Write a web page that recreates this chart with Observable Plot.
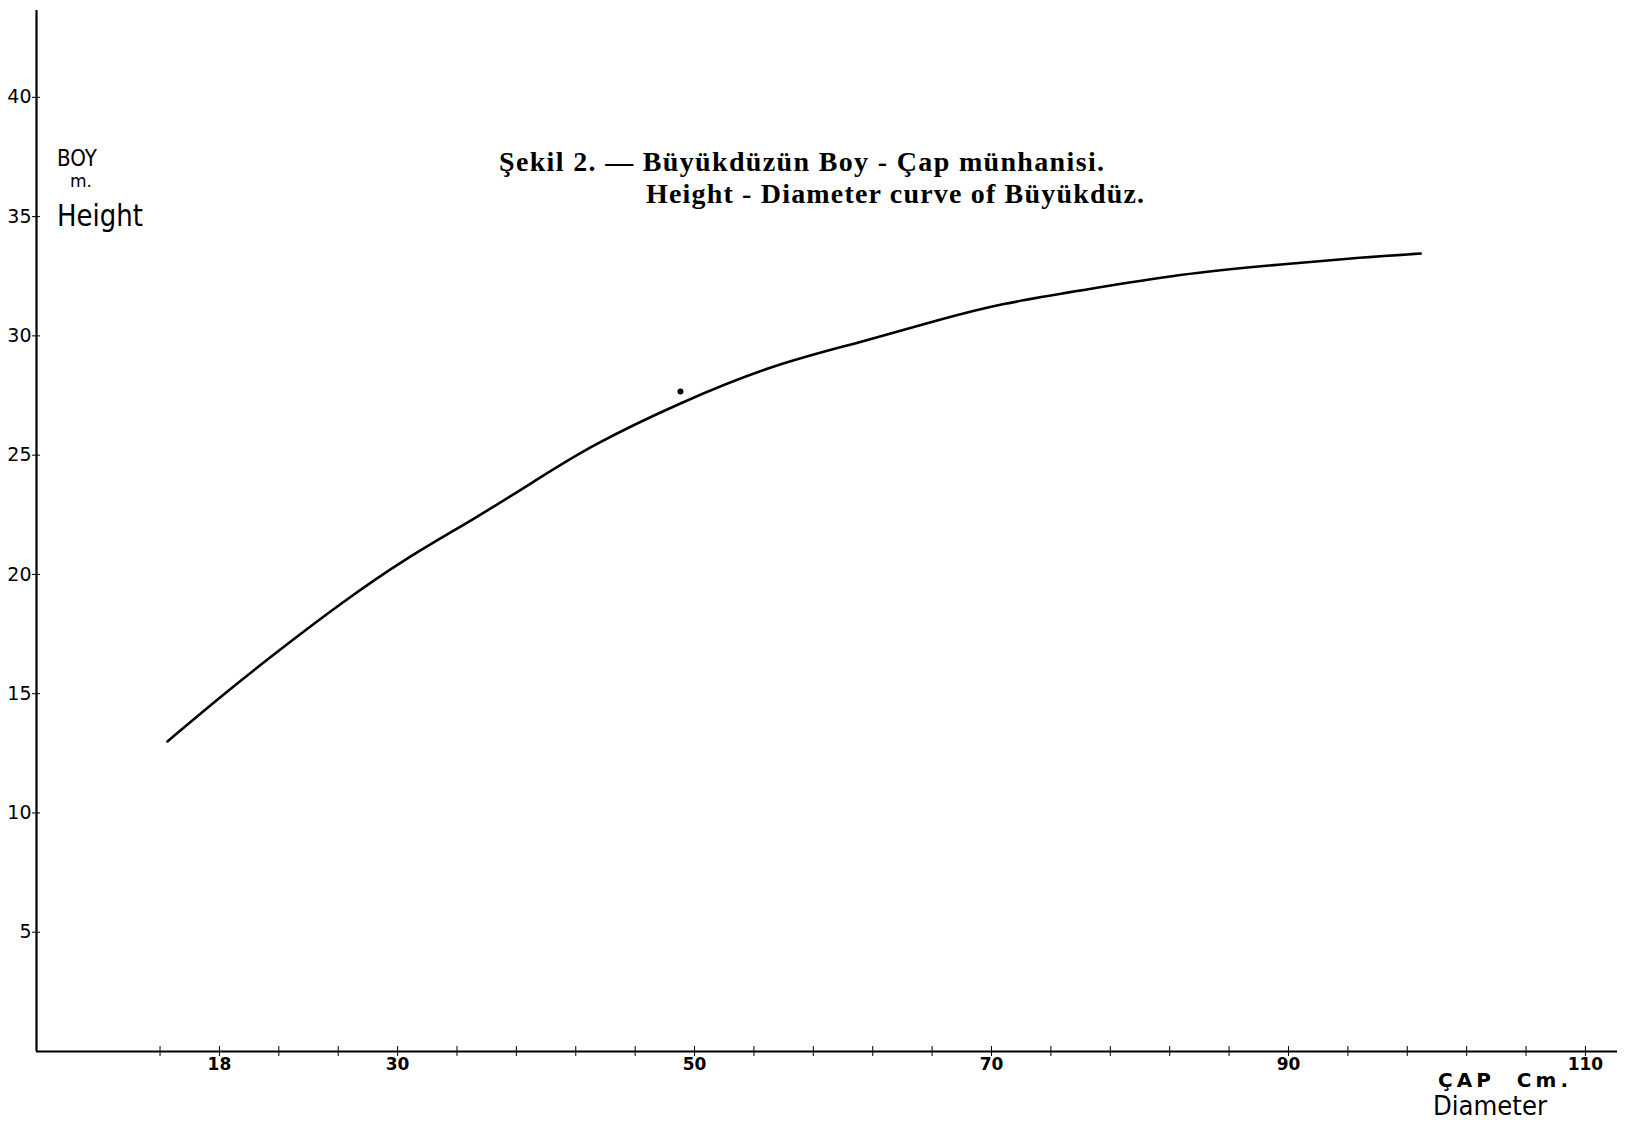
<!DOCTYPE html>
<html><head><meta charset="utf-8">
<script src="https://cdn.jsdelivr.net/npm/d3@7"></script>
<script src="https://cdn.jsdelivr.net/npm/@observablehq/plot@0.6"></script>
<style>
body{margin:0;background:#fff;}
#chart svg{display:block;}
</style>
</head><body><div id="chart"></div>
<script>
// Height–Diameter curve of Büyükdüz
const diameter = [14.5, 18.5, 22.6, 26.2, 30.6, 35.1, 39.2, 43.0, 49.0, 55.3, 61.0, 66.6, 70.6, 76.0, 82.7, 89.5, 95.1, 98.9];
const heightM  = [13.0, 15.1, 17.1, 18.8, 20.7, 22.3, 23.9, 25.4, 27.2, 28.8, 29.7, 30.7, 31.35, 31.9, 32.6, 33.0, 33.3, 33.45];
const strayDiameter = [49.05];
const strayHeight = [27.67];
const xTicks = d3.range(14, 111, 4);
const xTickLabels = [18, 30, 50, 70, 90, 110];
const yTicks = [5, 10, 15, 20, 25, 30, 35, 40];
const titleLines = ["Şekil 2. — Büyükdüzün Boy - Çap münhanisi.", "Height - Diameter curve of Büyükdüz."];
const yLabelLines = ["BOY", "m.", "Height"];
const xLabelLines = ["ÇAP  Cm.", "Diameter"];

const curve = diameter.map((d, i) => ({d, h: heightM[i]}));
const stray = strayDiameter.map((d, i) => ({d, h: strayHeight[i]}));

const W = 1625, H = 1125;
const plot = Plot.plot({
  width: W, height: H,
  marginLeft: 36, marginRight: 8, marginTop: 10, marginBottom: 74,
  style: {background: "#fff", color: "#000", fontFamily: "DejaVu Sans"},
  x: {domain: [5.68, 112.16]},
  y: {domain: [0, 43.64]},
  marks: [
    Plot.axisY({ticks: yTicks, tickSize: 4, tickPadding: 1, label: null, tickFormat: d => String(d), ariaLabel: "ylab"}),
    Plot.axisY({ticks: yTicks, tickSize: -4, label: null, tickFormat: () => ""}),
    Plot.axisX({ticks: xTicks, tickSize: 5, tickPadding: 1, label: null, ariaLabel: "xlab",
                tickFormat: d => xTickLabels.includes(d) ? String(d) : ""}),
    Plot.axisX({ticks: xTicks, tickSize: -5, label: null, tickFormat: () => ""}),
    Plot.ruleX([5.68], {stroke: "#000", strokeWidth: 2.2}),
    Plot.ruleY([0], {stroke: "#000", strokeWidth: 2.2}),
    Plot.line(curve, {x: "d", y: "h", curve: "basis", stroke: "#000", strokeWidth: 2.6}),
    Plot.dot(stray, {x: "d", y: "h", r: 3, fill: "#000", stroke: "none"})
  ]
});
document.getElementById("chart").appendChild(plot);

const svg = d3.select(plot);
// enlarge the tick labels: find every axis text by the orientation of its parent group
svg.selectAll("text").each(function() {
  const g = this.closest("g[aria-label]");
  const lab = g ? g.getAttribute("aria-label") : "";
  const s = d3.select(this);
  if (/^y/.test(lab)) s.style("font-size", "19px").style("font-family", "DejaVu Sans");
  else if (/^x/.test(lab)) s.style("font-size", "17px").style("font-weight", "bold").style("font-family", "DejaVu Sans");
});

const t = svg.append("g").attr("font-family", "Liberation Serif").attr("font-weight", "bold").attr("font-size", 28).attr("fill", "#000").attr("text-anchor", "start");
t.append("text").attr("x", 499).attr("y", 171).attr("textLength", 605).attr("lengthAdjust", "spacing").text(titleLines[0]);
t.append("text").attr("x", 646).attr("y", 203).attr("textLength", 498).attr("lengthAdjust", "spacing").text(titleLines[1]);

const yl = svg.append("g").attr("font-family", "DejaVu Sans").attr("fill", "#000").attr("text-anchor", "start");
yl.append("text").attr("x", 57).attr("y", 166).attr("font-size", 23).attr("textLength", 40).attr("lengthAdjust", "spacingAndGlyphs").text(yLabelLines[0]);
yl.append("text").attr("x", 70).attr("y", 187).attr("font-size", 17).text(yLabelLines[1]);
yl.append("text").attr("x", 57).attr("y", 226).attr("font-size", 31).attr("textLength", 86).attr("lengthAdjust", "spacingAndGlyphs").text(yLabelLines[2]);

const xl = svg.append("g").attr("font-family", "DejaVu Sans").attr("fill", "#000").attr("text-anchor", "start");
xl.append("text").attr("x", 1438).attr("y", 1087).attr("font-size", 20).attr("font-weight", "bold").attr("xml:space", "preserve").attr("textLength", 130).attr("lengthAdjust", "spacing").text(xLabelLines[0]);
xl.append("text").attr("x", 1433).attr("y", 1115).attr("font-size", 26).attr("textLength", 114).attr("lengthAdjust", "spacingAndGlyphs").text(xLabelLines[1]);
</script>
</body></html>
